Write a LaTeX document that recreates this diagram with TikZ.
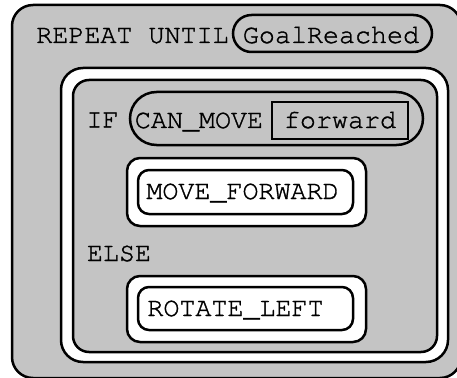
\documentclass[tikz,border=0pt]{standalone}
\usepackage[T1]{fontenc}
\usepackage{courier}
\definecolor{blockgray}{RGB}{196,196,196}
\newcommand{\heavytext}[1]{\special{pdf:literal direct 2 Tr 0.35 w}#1\special{pdf:literal direct 0 Tr}}
\tikzset{
  blk/.style={shape=rectangle, draw=black, line width=2.5pt, inner sep=0pt, outer sep=0pt},
  txt/.style={inner sep=0pt, anchor=base, font=\ttfamily\fontsize{26.7}{30}\selectfont}
}
\begin{document}
\begin{tikzpicture}[x=1pt, y=-1pt]
\useasboundingbox (0,0) rectangle (457,377);
\clip (0,0) rectangle (457,377);
% outer REPEAT block
\node[blk, fill=blockgray, rounded corners=21pt, minimum width=449pt, minimum height=373pt] (repeat) at (236.5,191.5) {};
% goal pill
\node[blk, fill=blockgray, rounded corners=18.5pt, minimum width=199pt, minimum height=37pt] (goal) at (332.5,33.5) {};
% white slot
\node[blk, fill=white, rounded corners=22pt, minimum width=387pt, minimum height=294pt] (slot) at (254.5,215) {};
% IF block
\node[blk, fill=blockgray, rounded corners=16pt, minimum width=364pt, minimum height=272pt] (ifblk) at (255,216) {};
% condition pill
\node[blk, fill=blockgray, rounded corners=26.5pt, minimum width=293pt, minimum height=53pt] (cond) at (276.5,118.5) {};
% forward box
\node[blk, fill=blockgray, minimum width=136pt, minimum height=37pt] (fwdbox) at (340,120.5) {};
% MOVE_FORWARD slot
\node[blk, fill=white, rounded corners=13pt, minimum width=239pt, minimum height=68pt] (mfslot) at (246.5,192) {};
\node[blk, fill=white, rounded corners=11pt, minimum width=215pt, minimum height=44pt] (mfbox) at (245.5,192) {};
% ROTATE_LEFT slot
\node[blk, fill=white, rounded corners=13pt, minimum width=239pt, minimum height=66pt] (rlslot) at (246.5,309) {};
\node[blk, fill=white, rounded corners=11pt, minimum width=215pt, minimum height=43pt] (rlbox) at (245.5,308.5) {};
% texts
\node[txt] (trepeat) at (132.5,43) {\heavytext{REPEAT UNTIL}};
\node[txt] (tgoal) at (331,43) {\heavytext{GoalReached}};
\node[txt] (tif) at (102.5,127.5) {\heavytext{IF}};
\node[txt] (tcan) at (199,128) {\heavytext{CAN\_MOVE}};
\node[txt] (tfwd) at (340,128) {\heavytext{forward}};
\node[txt] (tmf) at (242.5,199) {\heavytext{MOVE\_FORWARD}};
\node[txt] (telse) at (119,261) {\heavytext{ELSE}};
\node[txt] (trl) at (235.5,316) {\heavytext{ROTATE\_LEFT}};
\end{tikzpicture}
\end{document}
